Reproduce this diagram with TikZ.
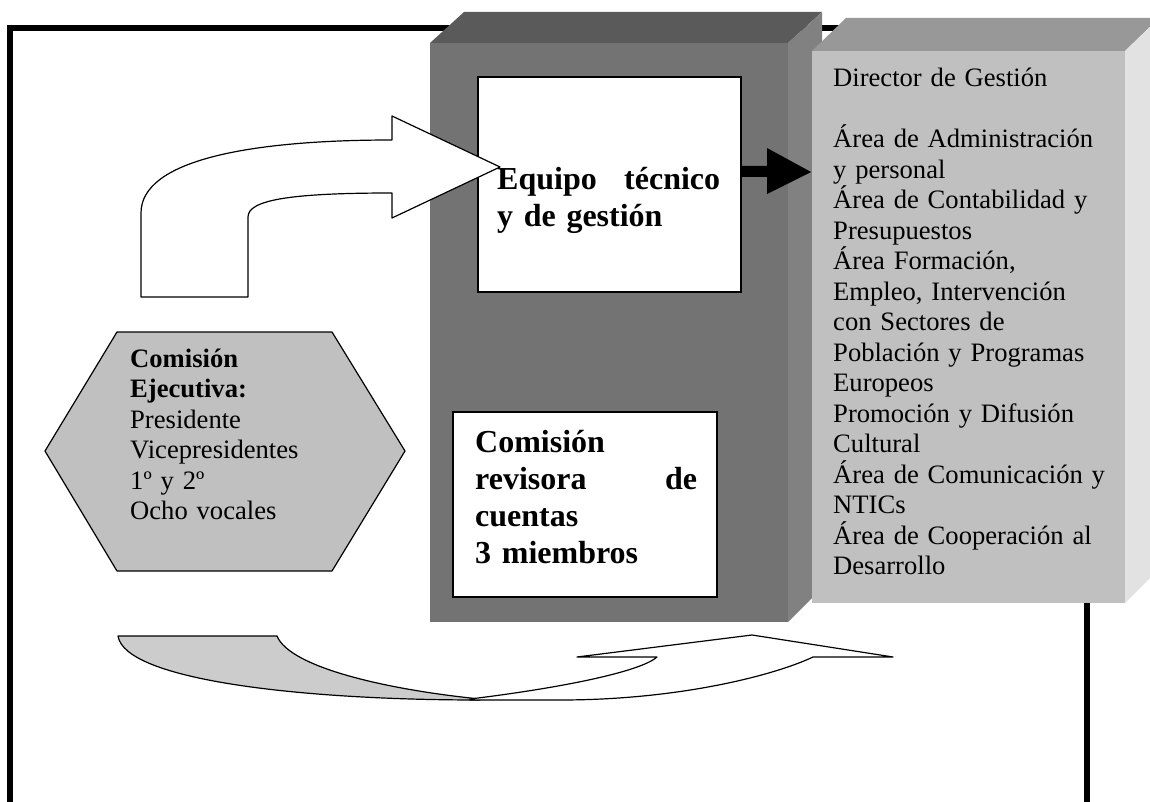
\documentclass[tikz,border=0pt]{standalone}
\usepackage{fontspec}
\setmainfont{Liberation Serif}
\definecolor{darkfront}{HTML}{737373}
\definecolor{darktop}{HTML}{5A5A5A}
\definecolor{darkside}{HTML}{818181}
\definecolor{lightfront}{HTML}{C0C0C0}
\definecolor{lighttop}{HTML}{989898}
\definecolor{lightside}{HTML}{E2E2E2}
\definecolor{tailfill}{HTML}{CCCCCC}
\tikzset{
    whitebox/.style={draw=black, line width=2pt, fill=white},
    shapeline/.style={draw=black, line width=1.2pt, line join=round},
    normaltext/.style={inner sep=0pt, anchor=base west, align=left,
        font={\parindent=0pt\parskip=0pt\fontsize{26.6}{30.5}\selectfont}},
    boldtext/.style={inner sep=0pt, anchor=base west, align=left,
        font={\parindent=0pt\parskip=0pt\bfseries\fontsize{32}{37}\selectfont}}
}
\begin{document}
\begin{tikzpicture}[x=1pt, y=-1pt]
\useasboundingbox (0,0) rectangle (1150,802);
% marco
\draw[line width=6pt, line join=miter] (10,802) -- (10,28) -- (1087,28) -- (1087,802);
% columna central
\fill[darkfront] (430,43) rectangle (788,622);
\fill[darktop] (430,43) -- (464,12) -- (822,12) -- (788,43) -- cycle;
\fill[darkside] (788,43) -- (822,12) -- (822,588) -- (788,622) -- cycle;
% columna de areas
\fill[lightfront] (812,51) rectangle (1125,603);
\fill[lighttop] (812,51) -- (846,18) -- (1159,18) -- (1125,51) -- cycle;
\fill[lightside] (1125,51) -- (1159,18) -- (1159,569) -- (1125,603) -- cycle;
\draw[whitebox] (478,77) rectangle (741,292);
\draw[whitebox] (453,412) rectangle (717,597);
\fill (741,166) -- (767,166) -- (767,148) -- (811,172) -- (767,194) -- (767,177) -- (741,177) -- cycle;
\draw[shapeline, fill=lightfront] (117,332) -- (332,332) -- (405,451) -- (332,571) -- (117,571) -- (45,451) -- cycle;
\draw[shapeline, fill=white] (141,297) -- (141,213) .. controls (141,160) and (250,140) .. (392,140)
    -- (392,116) -- (500,167) -- (392,218) -- (392,193) .. controls (290,193) and (248,200) .. (248,217)
    -- (248,297) -- cycle;
\draw[shapeline, fill=tailfill] (118,636) -- (277,636) .. controls (290,668) and (390,690) .. (480,699)
    -- (480,700) .. controls (300,700) and (125,680) .. (118,636) -- cycle;
\draw[shapeline, fill=white] (470,699) .. controls (560,688) and (640,672) .. (657,657) -- (577,657)
    -- (752,635) -- (893,657) -- (813,657) .. controls (775,675) and (680,700) .. (560,700) -- (470,700) -- cycle;
\node[boldtext, text width=223pt] (equipo) at (497,190) {Equipo\hfill técnico\\y de gestión};
\node[boldtext, text width=222pt] (revisora) at (475,452) {Comisión\\revisora\hfill de\\cuentas\\3 miembros};
\node[normaltext, text width=220pt] (ejecutiva) at (130,367)
    {\textbf{Comisión}\\\textbf{Ejecutiva:}\\Presidente\\Vicepresidentes\\1º y 2º\\Ocho vocales};
\node[normaltext, text width=300pt] (areas) at (833,87)
    {Director de Gestión\\[30.5pt]Área de Administración\\y personal\\Área de Contabilidad y\\Presupuestos\\Área Formación,\\Empleo, Intervención\\con Sectores de\\Población y Programas\\Europeos\\Promoción y Difusión\\Cultural\\Área de Comunicación y\\NTICs\\Área de Cooperación al\\Desarrollo};
\end{tikzpicture}
\end{document}
